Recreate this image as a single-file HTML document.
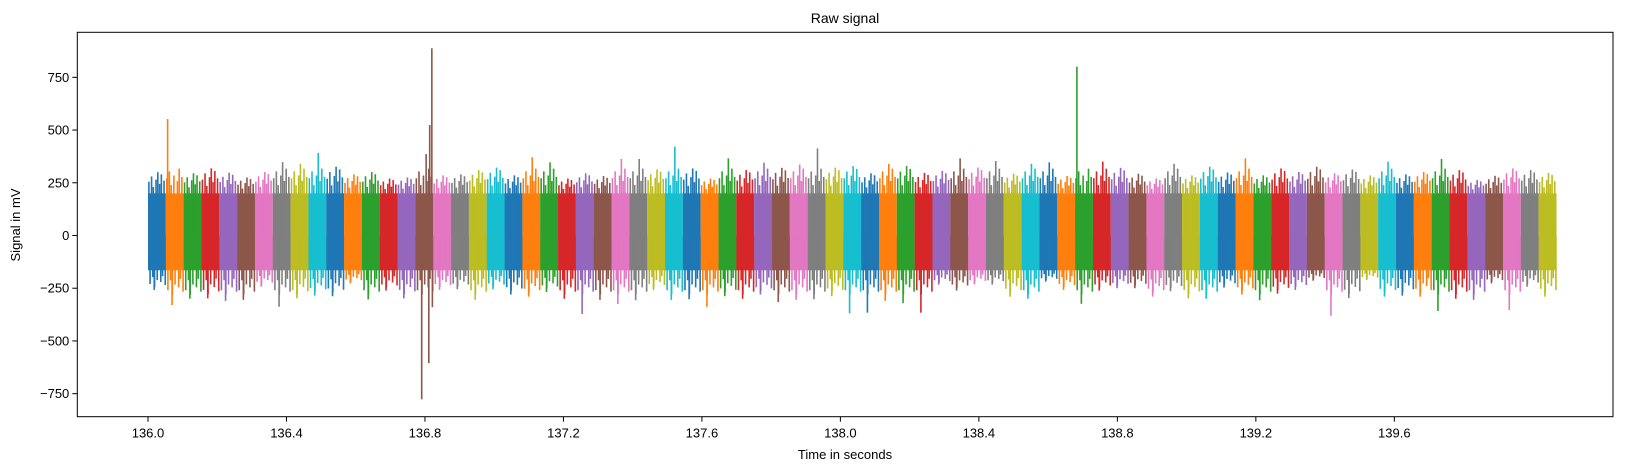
<!DOCTYPE html>
<html><head><meta charset="utf-8"><style>
html,body{margin:0;padding:0;background:#fff;}
svg{display:block;font-family:"Liberation Sans","DejaVu Sans",sans-serif;}
</style></head><body>
<svg id="chart" width="1637" height="470" viewBox="0 0 1637 470" xmlns="http://www.w3.org/2000/svg">
<rect width="1637" height="470" fill="#fff"/>
<g id="plot"></g>
<g id="axes"></g>
<text x="845" y="23" font-size="14" text-anchor="middle" fill="#000">Raw signal</text>
<text x="845" y="459" font-size="13" text-anchor="middle" fill="#000">Time in seconds</text>
<text x="0" y="0" font-size="13" text-anchor="middle" fill="#000" transform="translate(20,225) rotate(-90)">Signal in mV</text>
</svg>
<script>
var segMax = [300,552,295,318,298,275,301,348,340,392,326,290,301,270,275,888,285,290,310,322,
285,371,347,270,295,282,363,363,313,421,318,270,366,310,345,321,337,413,322,329,
295,340,329,297,306,366,322,353,293,340,347,282,800,350,321,293,270,340,285,326,
299,366,285,318,301,326,295,313,285,350,290,301,363,310,263,283,318,310,297];
var segMin = [-258,-330,-300,-298,-310,-305,-243,-338,-298,-285,-288,-227,-303,-261,-298,-777,-258,-255,-305,-255,
-280,-290,-268,-300,-372,-305,-325,-307,-258,-305,-302,-338,-288,-300,-280,-316,-305,-302,-288,-369,
-366,-310,-321,-366,-233,-261,-232,-233,-290,-300,-219,-258,-324,-261,-250,-250,-290,-264,-298,-300,
-247,-280,-307,-276,-258,-214,-381,-297,-211,-290,-285,-290,-358,-300,-305,-227,-354,-243,-290];
var extraSpikeSeg = [15,15,15,15];
var extraSpikeVal = [524,-605,386,-340];
var extraSpikePos = [0.8,0.75,0.6,0.95];
var maxPosSeg = [1,15,52];
var maxPosVal = [0.1,0.92,0.1];
var bandHi = 200, bandLo = -165;
var t0 = 136.0, segDur = 0.0515;
var xTicks = [136.0,136.4,136.8,137.2,137.6,138.0,138.4,138.8,139.2,139.6];
var xTickLabels = ["136.0","136.4","136.8","137.2","137.6","138.0","138.4","138.8","139.2","139.6"];
var yTicks = [-750,-500,-250,0,250,500,750];
var yTickLabels = ["\u2212750","\u2212500","\u2212250","0","250","500","750"];
var colors = ["#1f77b4","#ff7f0e","#2ca02c","#d62728","#9467bd","#8c564b","#e377c2","#7f7f7f","#bcbd22","#17becf"];
var texFrac = [0.05,0.2,0.3,0.45,0.65,0.75,0.9];
var texUp = [0.55,0.8,0.3,0.65,0.45,0.9,0.6];
var texDn = [0.7,0.35,0.85,0.5,0.6,0.3,0.75];

var L=77.3,R=1613,T=32.3,B=416.7;
function xs(t){return 148+(t-136.0)*346.2;}
function ys(v){return 235.5-v*0.2109;}
var NS="http://www.w3.org/2000/svg";
var plot=document.getElementById('plot'), axes=document.getElementById('axes');
function mk(tag,attrs,parent){var e=document.createElementNS(NS,tag);for(var k in attrs)e.setAttribute(k,attrs[k]);parent.appendChild(e);return e;}

for(var i=0;i<segMax.length;i++){
  var g=mk('g',{},plot);
  
  
  var c=colors[i%10];
  var xa=xs(t0+i*segDur), xb=xs(t0+(i+1)*segDur), w=xb-xa;
  var r=mk('rect',{x:xa,y:ys(bandHi),width:w,height:ys(bandLo)-ys(bandHi),fill:c},g);
  
  
  var capHi=Math.min(segMax[i],330), capLo=Math.max(segMin[i],-300);
  for(var q=0;q<texFrac.length;q++){
    var tx=xa+w*texFrac[q];
    var tu=mk('line',{x1:tx,x2:tx,y1:ys(0),y2:ys(bandHi+(capHi-bandHi)*texUp[q]),stroke:c,'stroke-width':1.6},g);
    
    
    var td=mk('line',{x1:tx+1.2,x2:tx+1.2,y1:ys(0),y2:ys(bandLo+(capLo-bandLo)*texDn[q]),stroke:c,'stroke-width':1.6},g);
    
    
  }
  var mp=0.55;
  for(var m=0;m<maxPosSeg.length;m++){if(maxPosSeg[m]===i)mp=maxPosVal[m];}
  var lm=mk('line',{x1:xa+w*mp,x2:xa+w*mp,y1:ys(0),y2:ys(segMax[i]),stroke:c,'stroke-width':1.6},g);
  
  
  var ln=mk('line',{x1:xa+w*0.35,x2:xa+w*0.35,y1:ys(0),y2:ys(segMin[i]),stroke:c,'stroke-width':1.6},g);
  
  
  for(var e=0;e<extraSpikeSeg.length;e++){
    if(extraSpikeSeg[e]!==i)continue;
    var ex=xa+w*extraSpikePos[e];
    var es=mk('line',{x1:ex,x2:ex,y1:ys(0),y2:ys(extraSpikeVal[e]),stroke:c,'stroke-width':1.6},g);
    
    
  }
}
var frame=mk('rect',{x:L,y:T,width:R-L,height:B-T,fill:'none',stroke:'#000','stroke-width':1},axes);


for(var j=0;j<xTicks.length;j++){
  var x=xs(xTicks[j]);
  var tk=mk('line',{x1:x,x2:x,y1:B,y2:B+5,stroke:'#000','stroke-width':1},axes);
  
  
  var tl=mk('text',{x:x,y:B+21,'font-size':13,'text-anchor':'middle',fill:'#000'},axes);
  tl.textContent=xTickLabels[j];
  
  
}
for(var k=0;k<yTicks.length;k++){
  var y=ys(yTicks[k]);
  var yk=mk('line',{x1:L-5,x2:L,y1:y,y2:y,stroke:'#000','stroke-width':1},axes);
  
  
  var yl=mk('text',{x:L-8,y:y+4.5,'font-size':13,'text-anchor':'end',fill:'#000'},axes);
  yl.textContent=yTickLabels[k];
  
  
}
</script>
</body></html>
